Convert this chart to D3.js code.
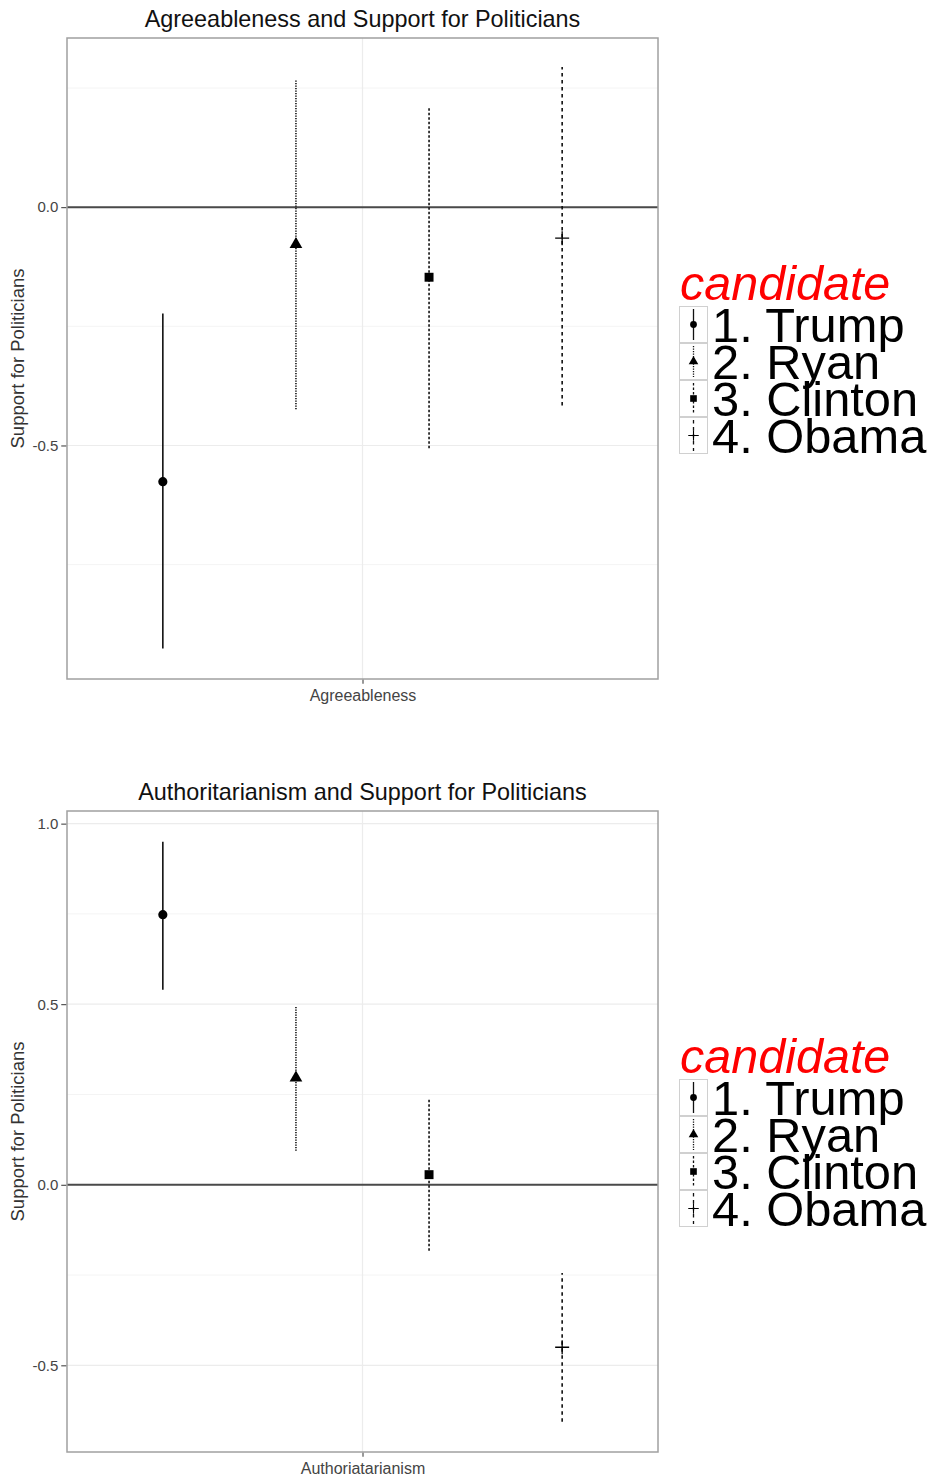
<!DOCTYPE html>
<html>
<head>
<meta charset="utf-8">
<script src="https://cdn.jsdelivr.net/npm/d3@7"></script>
<style>
body { margin: 0; background: #fff; }
text { font-family: "Liberation Sans", Arial, sans-serif; }
</style>
</head>
<body>
<script>
// Values
var candidates = ["1. Trump", "2. Ryan", "3. Clinton", "4. Obama"];

var agreeEst = [-0.576, -0.078, -0.147, -0.065];
var agreeLow = [-0.926, -0.424, -0.506, -0.416];
var agreeHigh = [-0.223, 0.267, 0.210, 0.294];

var authEst = [0.748, 0.296, 0.028, -0.450];
var authLow = [0.540, 0.094, -0.183, -0.656];
var authHigh = [0.950, 0.496, 0.238, -0.244];

var agreeTicks = [-0.5, 0.0];
var agreeMinor = [-0.75, -0.25, 0.25];
var authTicks = [-0.5, 0.0, 0.5, 1.0];
var authMinor = [-0.25, 0.25, 0.75];

// line type and shape per candidate
var dashes = [null, "1.2 1.3", "2.5 2", "3.5 3.5"];
var plusSymbol = {
  draw: function(ctx, size) {
    var r = Math.sqrt(size) / 2;
    ctx.moveTo(-r, 0); ctx.lineTo(r, 0);
    ctx.moveTo(0, -r); ctx.lineTo(0, r);
  }
};
var shapes = [d3.symbolCircle, d3.symbolTriangle, d3.symbolSquare, plusSymbol];
var shapeSize = [66, 70, 80, 196];
var keySize = [36, 40, 44, 110];

var svgWidth = 930;
var svgHeight = 1479;

var svg = d3.select("body")
  .append("svg")
  .attr("width", svgWidth)
  .attr("height", svgHeight)
  .style("background", "#fff");

var panelLeft = 67;
var panelRight = 658;
var panelHeight = 641;

// ggplot prints a plain hyphen for negatives
var tickFmt = d => d3.format(".1f")(d).replace("\u2212", "-");

function drawPanel(p) {
  var g = svg.append("g");
  var top = p.top;
  var bottom = top + panelHeight;

  var x = d3.scalePoint()
    .domain(candidates)
    .range([panelLeft, panelRight])
    .padding(0.72);
  var xCat = d3.scalePoint()
    .domain([p.xLabel])
    .range([panelLeft, panelRight])
    .padding(0.5);
  var y = d3.scaleLinear()
    .domain(p.domain)
    .range([bottom, top]);

  // grid
  g.selectAll(".minor")
    .data(p.minor)
    .enter()
    .append("line")
    .attr("x1", panelLeft).attr("x2", panelRight)
    .attr("y1", d => y(d)).attr("y2", d => y(d))
    .attr("stroke", "#f4f4f4").attr("stroke-width", 1);
  g.selectAll(".major")
    .data(p.ticks)
    .enter()
    .append("line")
    .attr("x1", panelLeft).attr("x2", panelRight)
    .attr("y1", d => y(d)).attr("y2", d => y(d))
    .attr("stroke", "#ececec").attr("stroke-width", 1.2);
  g.append("line")
    .attr("x1", xCat(p.xLabel)).attr("x2", xCat(p.xLabel))
    .attr("y1", top).attr("y2", bottom)
    .attr("stroke", "#ececec").attr("stroke-width", 1.2);

  // zero line
  g.append("line")
    .attr("x1", panelLeft).attr("x2", panelRight)
    .attr("y1", y(0)).attr("y2", y(0))
    .attr("stroke", "#4a4a4a").attr("stroke-width", 2);

  // error bars
  g.selectAll(".bar")
    .data(candidates)
    .enter()
    .append("line")
    .attr("x1", d => x(d)).attr("x2", d => x(d))
    .attr("y1", (d, i) => y(p.low[i]))
    .attr("y2", (d, i) => y(p.high[i]))
    .attr("stroke", "#111")
    .attr("stroke-width", 1.6)
    .attr("stroke-dasharray", (d, i) => dashes[i]);

  // points
  g.selectAll(".pt")
    .data(candidates)
    .enter()
    .append("path")
    .attr("transform", (d, i) => `translate(${x(d)},${y(p.est[i])})`)
    .attr("d", (d, i) => d3.symbol(shapes[i], shapeSize[i])())
    .attr("fill", (d, i) => i == 3 ? "none" : "#000")
    .attr("stroke", "#000")
    .attr("stroke-width", (d, i) => i == 3 ? 1.3 : 0);

  // panel border
  g.append("rect")
    .attr("x", panelLeft).attr("y", top)
    .attr("width", panelRight - panelLeft).attr("height", panelHeight)
    .attr("fill", "none")
    .attr("stroke", "#a0a0a0")
    .attr("stroke-width", 1.5);

  // axes
  var yAxis = d3.axisLeft(y)
    .tickValues(p.ticks)
    .tickFormat(tickFmt)
    .tickSize(5)
    .tickPadding(3);
  var yg = g.append("g")
    .attr("transform", `translate(${panelLeft - 0.75}, 0)`)
    .call(yAxis);
  yg.select(".domain").remove();
  yg.selectAll("line").attr("stroke", "#333");
  yg.selectAll("text")
    .attr("font-size", 15)
    .attr("fill", "#444")
    .style("font-family", "Liberation Sans, Arial, sans-serif");

  var xAxis = d3.axisBottom(xCat).tickSize(4).tickPadding(6);
  var xg = g.append("g")
    .attr("transform", `translate(0, ${bottom + 0.75})`)
    .call(xAxis);
  xg.select(".domain").remove();
  xg.selectAll("line").attr("stroke", "#333");
  xg.selectAll("text")
    .attr("font-size", 16)
    .attr("fill", "#444")
    .style("font-family", "Liberation Sans, Arial, sans-serif");

  // titles
  g.append("text")
    .attr("x", (panelLeft + panelRight) / 2)
    .attr("y", top - 11)
    .attr("text-anchor", "middle")
    .attr("font-size", 23.4)
    .attr("fill", "#111")
    .text(p.title);

  g.append("text")
    .attr("transform", `translate(24, ${(top + bottom) / 2}) rotate(-90)`)
    .attr("text-anchor", "middle")
    .attr("font-size", 18.5)
    .attr("fill", "#333")
    .text("Support for Politicians");

  // legend
  var leg = g.append("g")
    .attr("transform", `translate(679, ${top + 268})`);
  leg.append("text")
    .attr("x", 1)
    .attr("y", -6)
    .attr("font-size", 48.5)
    .attr("font-style", "italic")
    .attr("fill", "#ff0000")
    .text("candidate");

  var rowH = 37;
  var rows = leg.selectAll(".key")
    .data(candidates)
    .enter()
    .append("g")
    .attr("transform", (d, i) => `translate(0, ${i * rowH})`);
  rows.append("rect")
    .attr("x", 0.5).attr("y", 0.5)
    .attr("width", 28).attr("height", rowH - 1)
    .attr("fill", "#fff")
    .attr("stroke", "#d0d0d0");
  rows.append("line")
    .attr("x1", 14.5).attr("x2", 14.5)
    .attr("y1", 3).attr("y2", rowH - 3)
    .attr("stroke", "#111")
    .attr("stroke-width", 1.3)
    .attr("stroke-dasharray", (d, i) => dashes[i]);
  rows.append("path")
    .attr("transform", `translate(14.5, ${rowH / 2})`)
    .attr("d", (d, i) => d3.symbol(shapes[i], keySize[i])())
    .attr("fill", (d, i) => i == 3 ? "none" : "#000")
    .attr("stroke", "#000")
    .attr("stroke-width", (d, i) => i == 3 ? 1.1 : 0);
  rows.append("text")
    .attr("x", 33)
    .attr("y", rowH - 1)
    .attr("font-size", 48.8)
    .attr("fill", "#000")
    .text(d => d);
}

drawPanel({
  title: "Agreeableness and Support for Politicians",
  xLabel: "Agreeableness",
  est: agreeEst, low: agreeLow, high: agreeHigh,
  ticks: agreeTicks, minor: agreeMinor,
  domain: [-0.99, 0.355],
  top: 38
});

drawPanel({
  title: "Authoritarianism and Support for Politicians",
  xLabel: "Authoriatarianism",
  est: authEst, low: authLow, high: authHigh,
  ticks: authTicks, minor: authMinor,
  domain: [-0.74, 1.035],
  top: 811
});
</script>
</body>
</html>
